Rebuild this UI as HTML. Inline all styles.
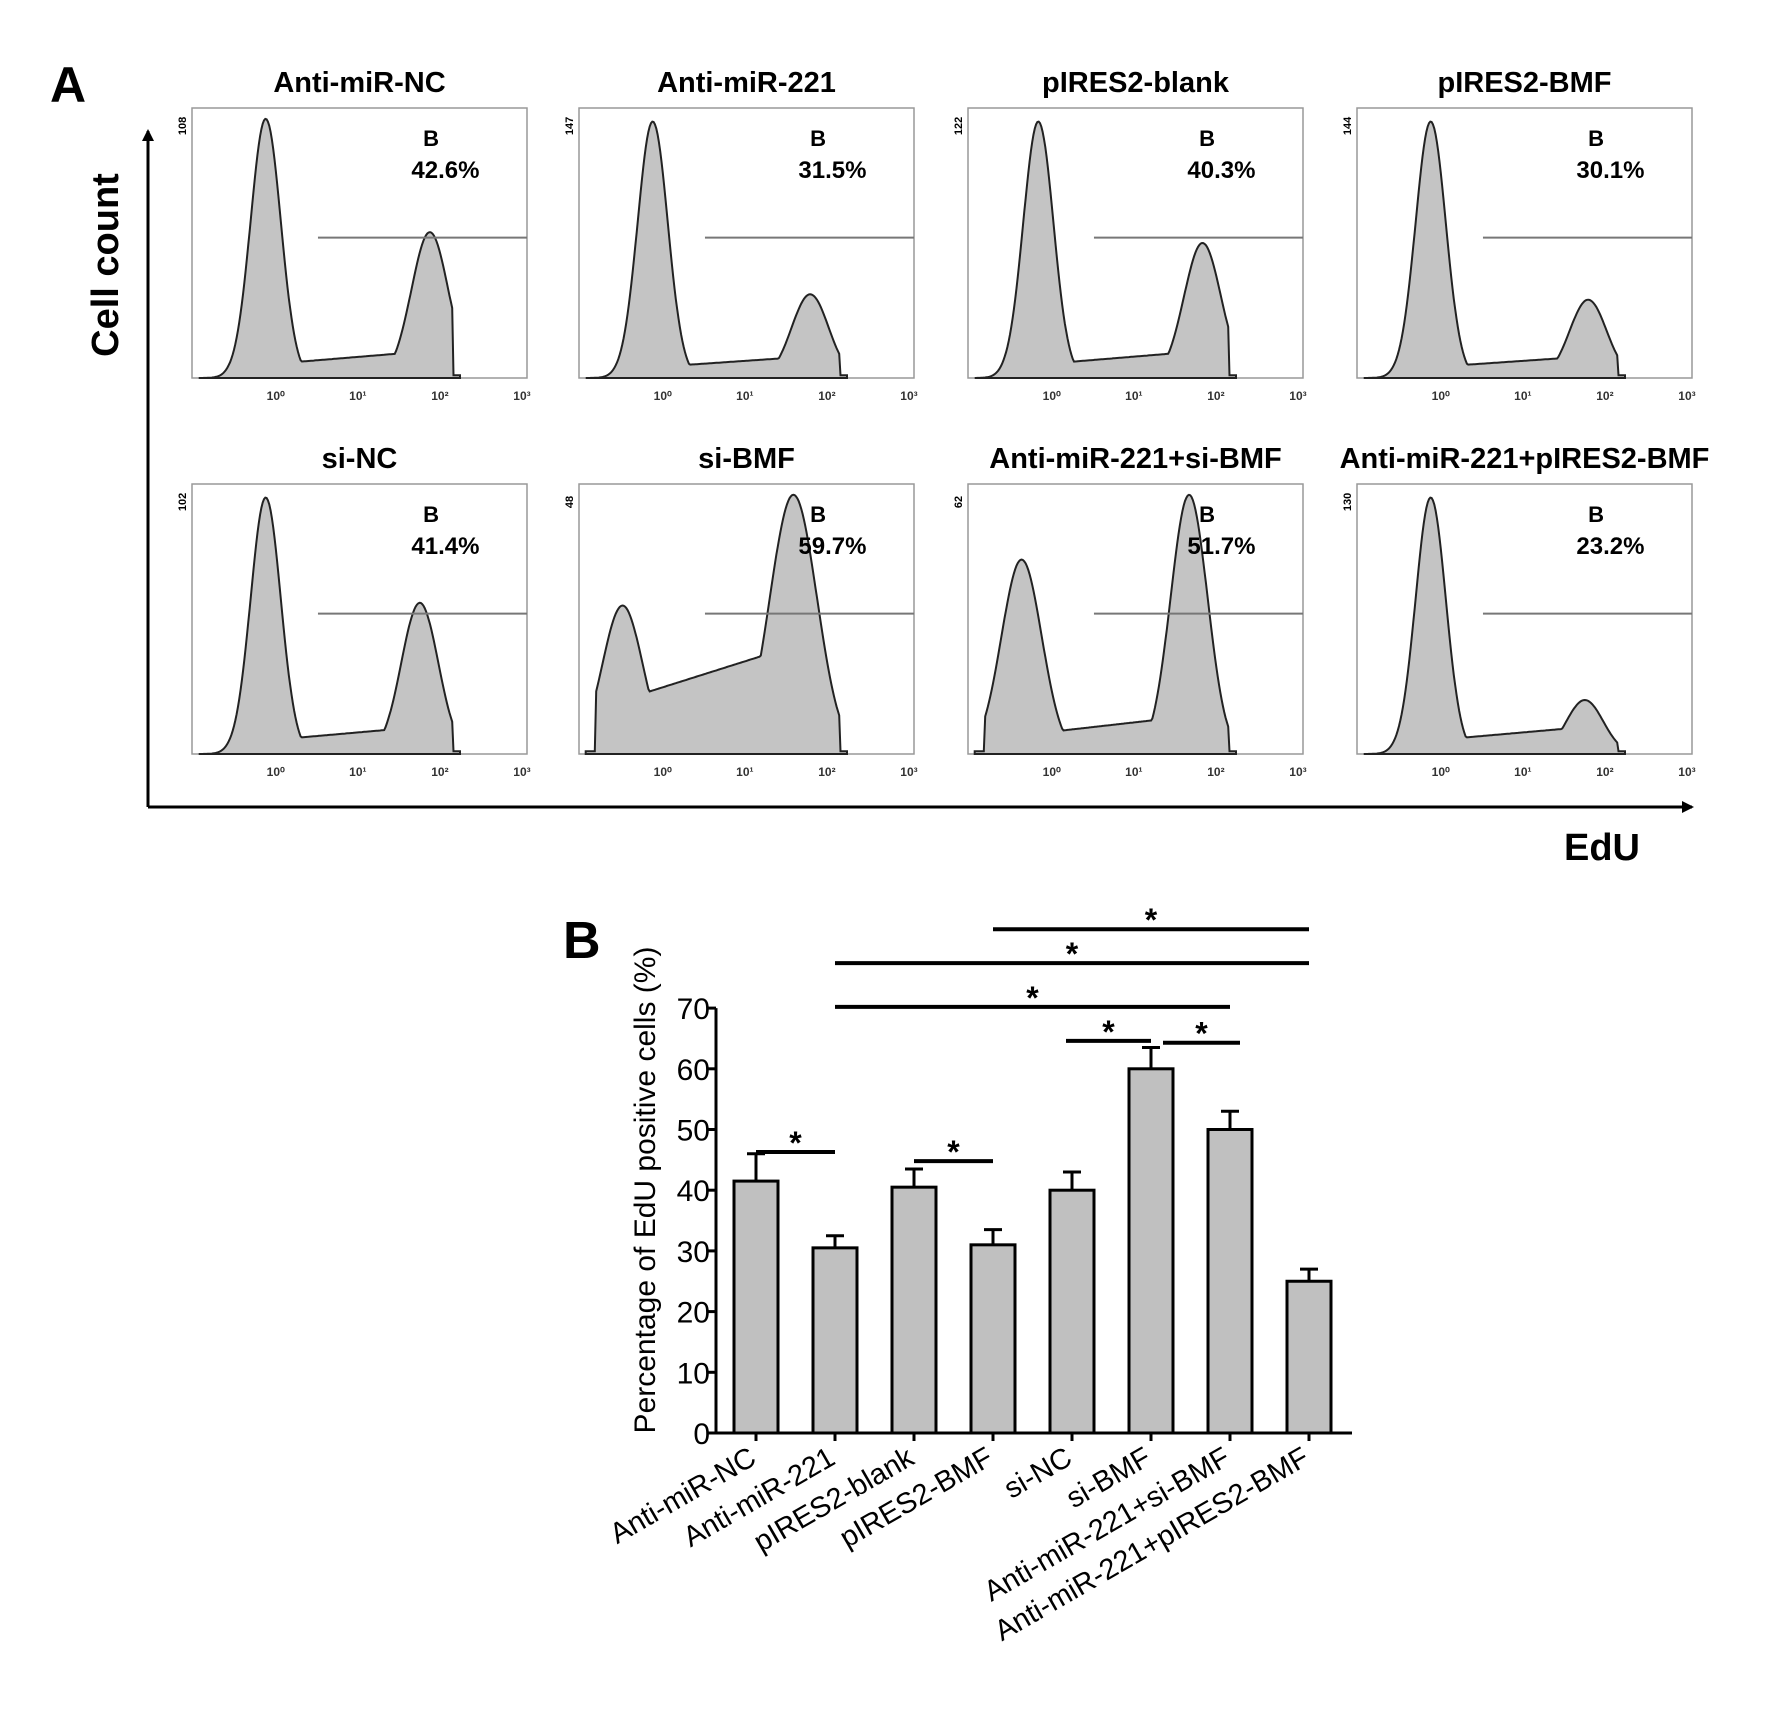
<!DOCTYPE html>
<html><head><meta charset="utf-8"><style>
html,body{margin:0;padding:0;background:#fff;}
svg{display:block;font-family:"Liberation Sans",Arial,sans-serif;}
</style></head><body>
<svg id="fig" width="1772" height="1715" viewBox="0 0 1772 1715" xmlns="http://www.w3.org/2000/svg">
<defs>
<marker id="arr" markerWidth="12" markerHeight="12" refX="10" refY="6" orient="auto" markerUnits="userSpaceOnUse"><path d="M0,0 L12,6 L0,12 Z" fill="#000"/></marker>
</defs>
<text x="50" y="102" font-size="50" font-weight="bold">A</text>
<g id="hists"></g>
<line x1="148" y1="807" x2="148" y2="131" stroke="#000" stroke-width="3" marker-end="url(#arr)"/>
<line x1="148" y1="807" x2="1692" y2="807" stroke="#000" stroke-width="3" marker-end="url(#arr)"/>
<text transform="translate(118,265) rotate(-90)" text-anchor="middle" font-size="38" font-weight="bold">Cell count</text>
<text x="1602" y="860" text-anchor="middle" font-size="38" font-weight="bold">EdU</text>
<text x="563" y="958" font-size="52" font-weight="bold">B</text>
<g id="bars"></g>
</svg>
<script>
// Panel A data
const histTitles = ["Anti-miR-NC","Anti-miR-221","pIRES2-blank","pIRES2-BMF","si-NC","si-BMF","Anti-miR-221+si-BMF","Anti-miR-221+pIRES2-BMF"];
const histPercents = ["42.6%","31.5%","40.3%","30.1%","41.4%","59.7%","51.7%","23.2%"];
const histMaxLabels = ["108","147","122","144","102","48","62","130"];
const peak1Pos = [0.22,0.22,0.21,0.22,0.22,0.13,0.16,0.22];
const peak1Height = [0.96,0.95,0.95,0.95,0.95,0.55,0.72,0.95];
const peak2Pos = [0.71,0.69,0.70,0.69,0.68,0.64,0.66,0.68];
const peak2Height = [0.54,0.31,0.50,0.29,0.56,0.96,0.96,0.20];
const valleyLevel = [0.05,0.04,0.05,0.04,0.05,0.20,0.07,0.05];
const tickLabels = ["10⁰","10¹","10²","10³"];

// Panel B data
const categories = ["Anti-miR-NC","Anti-miR-221","pIRES2-blank","pIRES2-BMF","si-NC","si-BMF","Anti-miR-221+si-BMF","Anti-miR-221+pIRES2-BMF"];
const values = [41.5,30.5,40.5,31,40,60,50,25];
const errors = [4.5,2,3,2.5,3,3.5,3,2];
const yTicks = [0,10,20,30,40,50,60,70];
const sigFrom = [3,1,1,4,5,0,2];
const sigTo = [7,7,6,5,6,1,3];
const sigLevel = [83,77.4,70.2,64.6,64.3,46.3,44.8];

const NS="http://www.w3.org/2000/svg";
function mk(tag,attrs,parent){const e=document.createElementNS(NS,tag);for(const k in attrs)e.setAttribute(k,attrs[k]);parent.appendChild(e);return e;}

// Histograms
const hg=document.getElementById('hists');
const colX=[192,579,968,1357], rowY=[108,484], bw=335, bh=270;
const titleY=[92,468];
histTitles.forEach((t,i)=>{
  const c=i%4,r=Math.floor(i/4);const x0=colX[c],y0=rowY[r];
  const g=mk('g',{},hg);
  
  
  const tt=mk('text',{x:x0+bw/2,y:titleY[r],'text-anchor':'middle','font-size':29,'font-weight':'bold'},g);tt.textContent=t;
  
  
  const rect=mk('rect',{x:x0,y:y0,width:bw,height:bh,fill:'none',stroke:'#999','stroke-width':1.5},g);
  
  
  const xs=t=>x0+t*bw, ys=v=>y0+bh-v*bh;
  let pts=[];
  const s1=peak1Pos[i]<0.18?0.06:0.045, s2=peak2Pos[i]<0.66?0.07:0.055;
  for(let k=0;k<=200;k++){
    const u=0.02+k*(0.78/200);
    let v=peak1Height[i]*Math.exp(-Math.pow((u-peak1Pos[i])/s1,2)/2)+peak2Height[i]*Math.exp(-Math.pow((u-peak2Pos[i])/s2,2)/2);
    const lo=Math.min(peak1Pos[i],peak2Pos[i]),hi=Math.max(peak1Pos[i],peak2Pos[i]);
    if(u>lo&&u<hi)v=Math.max(v,valleyLevel[i]*(1+(u-lo)/(hi-lo)));
    if(u<0.05||u>0.78)v=Math.min(v,0.01);
    pts.push(xs(u).toFixed(1)+','+ys(v).toFixed(1));
  }
  const p=mk('polygon',{points:xs(0.02)+','+ys(0)+' '+pts.join(' ')+' '+xs(0.8)+','+ys(0),fill:'#c4c4c4',stroke:'#222','stroke-width':2},g);
  
  
  const gate=mk('line',{x1:xs(0.376),x2:x0+bw,y1:ys(0.52),y2:ys(0.52),stroke:'#777','stroke-width':2},g);
  
  
  const b=mk('text',{x:xs(0.69),y:y0+38,'font-size':22,'font-weight':'bold'},g);b.textContent='B';
  
  
  const pc=mk('text',{x:xs(0.655),y:y0+70,'font-size':24,'font-weight':'bold'},g);pc.textContent=histPercents[i];
  
  
  const ml=mk('text',{transform:`translate(${x0-6},${y0+18}) rotate(-90)`,'text-anchor':'middle','font-size':11,'font-weight':'bold'},g);ml.textContent=histMaxLabels[i];
  
  
  tickLabels.forEach((tl,j)=>{
    const tx=mk('text',{x:xs(0.25+j*0.245),y:y0+bh+22,'text-anchor':'middle','font-size':12,'font-weight':'bold',fill:'#333'},g);tx.textContent=tl;
    
    
  });
});

// Bar chart
const bg=document.getElementById('bars');
const y0=1433, pxPer10=60.7, xAxis0=716, cx0=756, step=79, barW=44;
const Y=v=>y0-v/10*pxPer10, X=i=>cx0+i*step;
mk('line',{x1:xAxis0,y1:Y(70),x2:xAxis0,y2:y0,stroke:'#000','stroke-width':3},bg);
mk('line',{x1:xAxis0,y1:y0,x2:1352,y2:y0,stroke:'#000','stroke-width':3},bg);
yTicks.forEach(t=>{
  const l=mk('line',{x1:xAxis0-8,x2:xAxis0,y1:Y(t),y2:Y(t),stroke:'#000','stroke-width':3},bg);
  
  
  const tx=mk('text',{x:xAxis0-6,y:Y(t)+11,'text-anchor':'end','font-size':30},bg);tx.textContent=t;
  
  
});
const yt=mk('text',{transform:`translate(655,1190) rotate(-90)`,'text-anchor':'middle','font-size':30},bg);
yt.textContent='Percentage of EdU positive cells (%)';


categories.forEach((c,i)=>{
  const x=X(i);
  const e=mk('line',{x1:x,x2:x,y1:Y(values[i]),y2:Y(values[i]+errors[i]),stroke:'#000','stroke-width':3},bg);
  
  
  const ec=mk('line',{x1:x-9,x2:x+9,y1:Y(values[i]+errors[i]),y2:Y(values[i]+errors[i]),stroke:'#000','stroke-width':3},bg);
  
  
  const r=mk('rect',{x:x-barW/2,y:Y(values[i]),width:barW,height:y0-Y(values[i]),fill:'#c0c0c0',stroke:'#000','stroke-width':3},bg);
  
  
  const tk=mk('line',{x1:x,x2:x,y1:y0,y2:y0+8,stroke:'#000','stroke-width':3},bg);
  
  
  const lb=mk('text',{transform:`translate(${x+2},${y0+30}) rotate(-30)`,'text-anchor':'end','font-size':29},bg);lb.textContent=c;
  
  
});
sigFrom.forEach((f,k)=>{
  const x1=X(f)+(k===3?-6:k===4?12:0), x2=X(sigTo[k])+(k===4?10:0);
  const yy=Y(sigLevel[k]);
  const l=mk('line',{x1:x1,x2:x2,y1:yy,y2:yy,stroke:'#000','stroke-width':4},bg);
  
  
  const s=mk('text',{x:(x1+x2)/2,y:yy+2,'text-anchor':'middle','font-size':32,'font-weight':'bold'},bg);s.textContent='*';
  
  
});
</script>
</body></html>
